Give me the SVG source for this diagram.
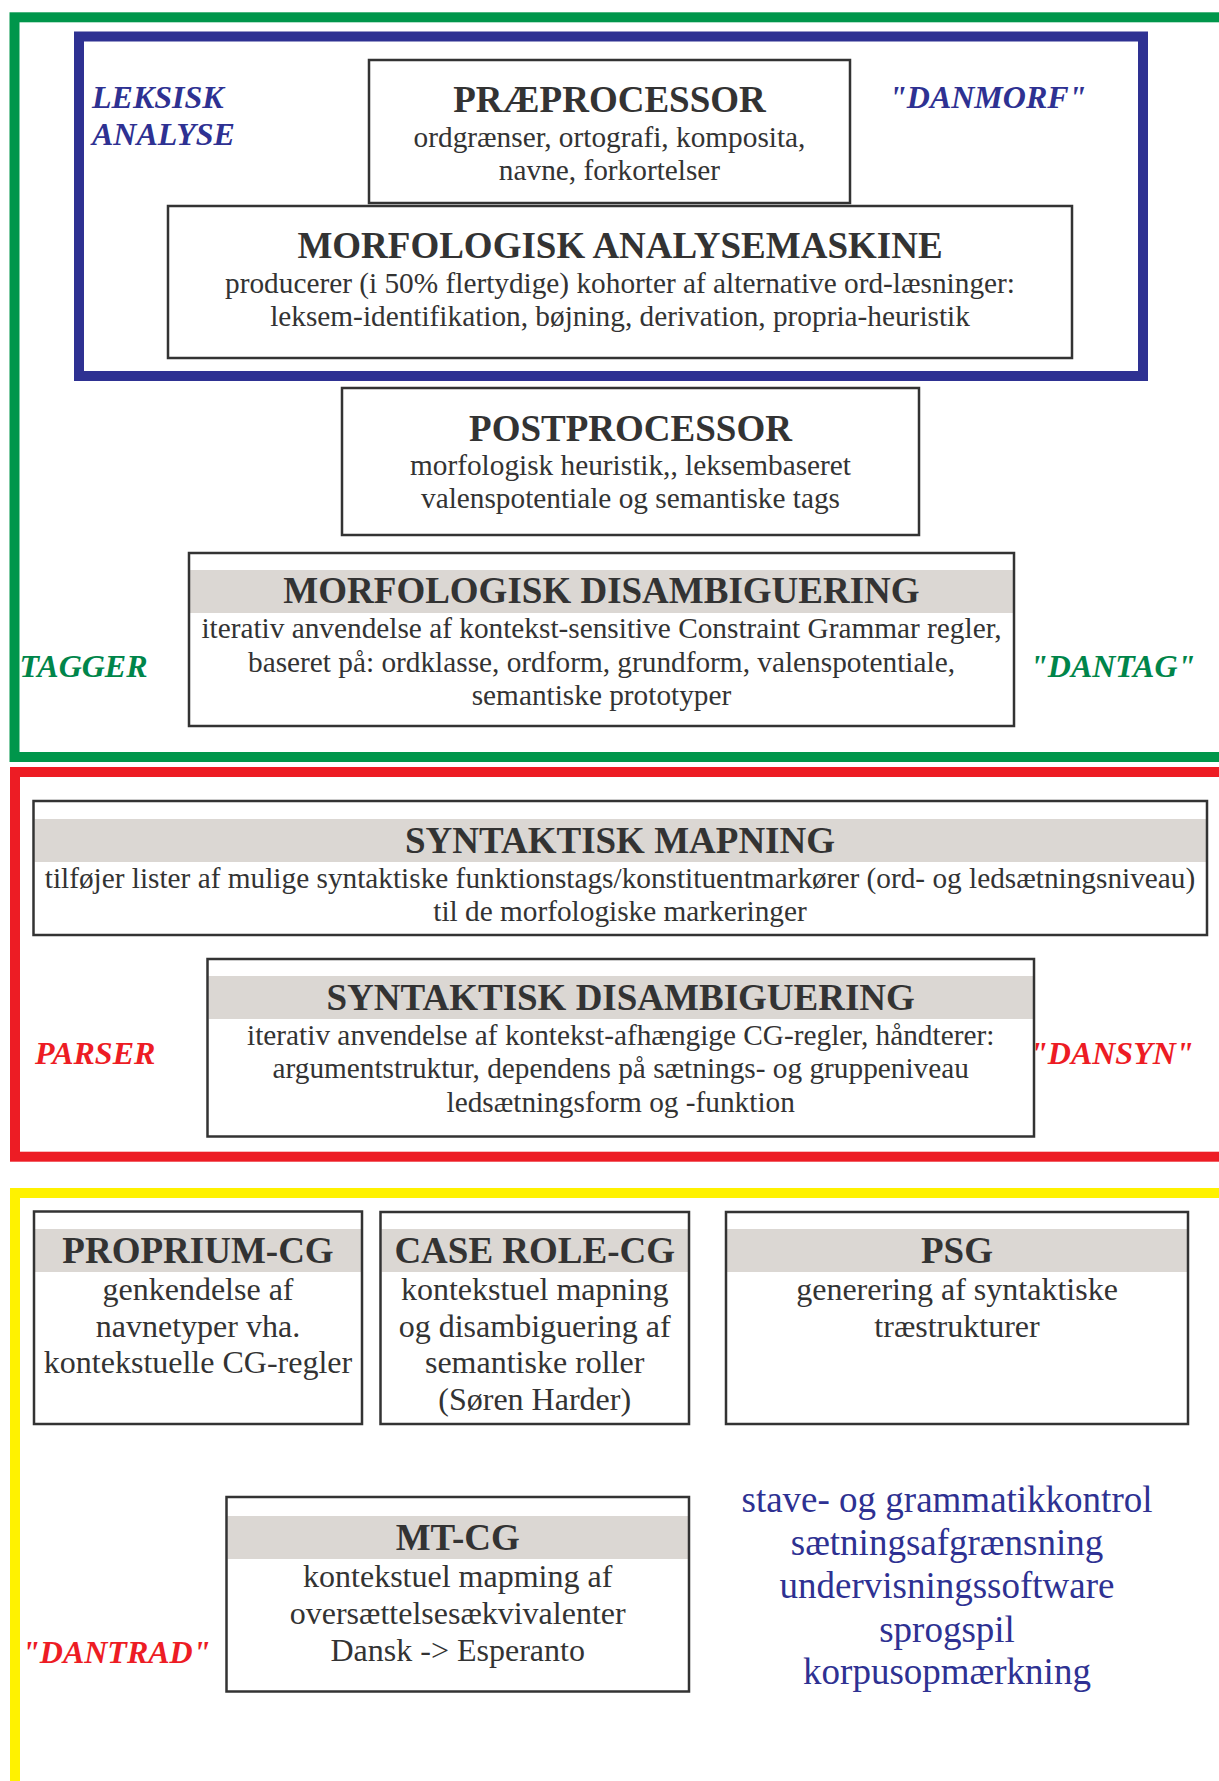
<svg xmlns="http://www.w3.org/2000/svg" width="1219" height="1781" viewBox="0 0 1219 1781">
<style>
  .frame { fill: none; stroke-width: 10; }
  .box { fill: #ffffff; stroke: none; }
  .outline { fill: none; stroke: #333333; stroke-width: 2.5; }
  .band { fill: #dbd7d3; stroke: none; }
  text { font-family: "Liberation Serif", "Times New Roman", serif; fill: #333333; }
  .title { font-size: 37px; font-weight: bold; text-anchor: middle; }
  .body { font-size: 29.3px; text-anchor: middle; }
  .body2 { font-size: 32px; text-anchor: middle; }
  .label { font-size: 32px; font-weight: bold; font-style: italic; }
  .blue { fill: #2e3192; }
  .green { fill: #00854a; }
  .red { fill: #ed1c24; }
  .list { font-size: 37px; text-anchor: middle; fill: #2e3192; }
</style>
<rect width="1219" height="1781" fill="#ffffff"/>
<g id="frames">
  <rect class="frame" x="14.5" y="17.3" width="1300" height="739.7" stroke="#00964b"/>
  <rect class="frame" x="79" y="36.5" width="1064" height="339.5" stroke="#2e3192" stroke-width="10.5"/>
  <rect class="frame" x="15" y="772" width="1300" height="384.7" stroke="#ed1c24"/>
  <rect class="frame" x="15" y="1193" width="1300" height="700" stroke="#fff200"/>
</g>
<g id="labels">
  <text class="label blue" x="92" y="108">LEKSISK</text>
  <text class="label blue" x="92" y="145">ANALYSE</text>
  <text class="label blue" x="889" y="108">"DANMORF"</text>
  <text class="label green" x="19.5" y="677">TAGGER</text>
  <text class="label green" x="1030" y="677">"DANTAG"</text>
  <text class="label red" x="35" y="1064">PARSER</text>
  <text class="label red" x="1030" y="1064">"DANSYN"</text>
  <text class="label red" x="22" y="1663">"DANTRAD"</text>
</g>
<g id="connectors"></g>
<g id="praeprocessor">
  <rect class="box" x="369" y="60" width="481" height="143"/>
  <rect class="outline" x="369" y="60" width="481" height="143"/>
  <text class="title" x="609.5" y="112">PRÆPROCESSOR</text>
  <text class="body" x="609.5" y="147">ordgrænser, ortografi, komposita,</text>
  <text class="body" x="609.5" y="180">navne, forkortelser</text>
</g>
<g id="morf-analyse">
  <rect class="box" x="168" y="206" width="904" height="152"/>
  <rect class="outline" x="168" y="206" width="904" height="152"/>
  <text class="title" x="620" y="258">MORFOLOGISK ANALYSEMASKINE</text>
  <text class="body" x="620" y="293">producerer (i 50% flertydige) kohorter af alternative ord-læsninger:</text>
  <text class="body" x="620" y="326">leksem-identifikation, bøjning, derivation, propria-heuristik</text>
</g>
<g id="postprocessor">
  <rect class="box" x="342" y="388" width="577" height="147"/>
  <rect class="outline" x="342" y="388" width="577" height="147"/>
  <text class="title" x="630.5" y="441">POSTPROCESSOR</text>
  <text class="body" x="630.5" y="475">morfologisk heuristik,, leksembaseret</text>
  <text class="body" x="630.5" y="508">valenspotentiale og semantiske tags</text>
</g>
<g id="morf-disamb">
  <rect class="box" x="189" y="553" width="825" height="173"/>
  <rect class="band" x="190" y="570" width="823" height="43"/>
  <rect class="outline" x="189" y="553" width="825" height="173"/>
  <text class="title" x="601.5" y="603">MORFOLOGISK DISAMBIGUERING</text>
  <text class="body" x="601.5" y="638">iterativ anvendelse af kontekst-sensitive Constraint Grammar regler,</text>
  <text class="body" x="601.5" y="672">baseret på: ordklasse, ordform, grundform, valenspotentiale,</text>
  <text class="body" x="601.5" y="705">semantiske prototyper</text>
</g>
<g id="synt-mapning">
  <rect class="box" x="33.5" y="801" width="1173.5" height="134"/>
  <rect class="band" x="34.5" y="819" width="1171.5" height="43"/>
  <rect class="outline" x="33.5" y="801" width="1173.5" height="134"/>
  <text class="title" x="620" y="853">SYNTAKTISK MAPNING</text>
  <text class="body" x="620" y="888">tilføjer lister af mulige syntaktiske funktionstags/konstituentmarkører (ord- og ledsætningsniveau)</text>
  <text class="body" x="620" y="921">til de morfologiske markeringer</text>
</g>
<g id="synt-disamb">
  <rect class="box" x="207.5" y="959" width="826.5" height="177.5"/>
  <rect class="band" x="208.5" y="976" width="824.5" height="43"/>
  <rect class="outline" x="207.5" y="959" width="826.5" height="177.5"/>
  <text class="title" x="620.7" y="1010">SYNTAKTISK DISAMBIGUERING</text>
  <text class="body" x="620.7" y="1045">iterativ anvendelse af kontekst-afhængige CG-regler, håndterer:</text>
  <text class="body" x="620.7" y="1078">argumentstruktur, dependens på sætnings- og gruppeniveau</text>
  <text class="body" x="620.7" y="1112">ledsætningsform og -funktion</text>
</g>
<g id="proprium-cg">
  <rect class="box" x="34" y="1211.5" width="328" height="212.5"/>
  <rect class="band" x="35" y="1229" width="326" height="43"/>
  <rect class="outline" x="34" y="1211.5" width="328" height="212.5"/>
  <text class="title" x="198" y="1263">PROPRIUM-CG</text>
  <text class="body2" x="198" y="1300">genkendelse af</text>
  <text class="body2" x="198" y="1337">navnetyper vha.</text>
  <text class="body2" x="198" y="1373">kontekstuelle CG-regler</text>
</g>
<g id="case-role-cg">
  <rect class="box" x="380.5" y="1212" width="308.5" height="212"/>
  <rect class="band" x="381.5" y="1229" width="306.5" height="43"/>
  <rect class="outline" x="380.5" y="1212" width="308.5" height="212"/>
  <text class="title" x="534.7" y="1263">CASE ROLE-CG</text>
  <text class="body2" x="534.7" y="1300">kontekstuel mapning</text>
  <text class="body2" x="534.7" y="1337">og disambiguering af</text>
  <text class="body2" x="534.7" y="1373">semantiske roller</text>
  <text class="body2" x="534.7" y="1410">(Søren Harder)</text>
</g>
<g id="psg">
  <rect class="box" x="726" y="1212" width="462" height="212"/>
  <rect class="band" x="727" y="1229" width="460" height="43"/>
  <rect class="outline" x="726" y="1212" width="462" height="212"/>
  <text class="title" x="957" y="1263">PSG</text>
  <text class="body2" x="957" y="1300">generering af syntaktiske</text>
  <text class="body2" x="957" y="1337">træstrukturer</text>
</g>
<g id="mt-cg">
  <rect class="box" x="226.5" y="1497" width="462.5" height="194.5"/>
  <rect class="band" x="227.5" y="1516" width="460.5" height="43"/>
  <rect class="outline" x="226.5" y="1497" width="462.5" height="194.5"/>
  <text class="title" x="457.7" y="1550">MT-CG</text>
  <text class="body2" x="457.7" y="1587">kontekstuel mapming af</text>
  <text class="body2" x="457.7" y="1624">oversættelsesækvivalenter</text>
  <text class="body2" x="457.7" y="1661">Dansk -&gt; Esperanto</text>
</g>
<g id="applications">
  <text class="list" x="947" y="1512">stave- og grammatikkontrol</text>
  <text class="list" x="947" y="1555">sætningsafgrænsning</text>
  <text class="list" x="947" y="1598">undervisningssoftware</text>
  <text class="list" x="947" y="1642">sprogspil</text>
  <text class="list" x="947" y="1684">korpusopmærkning</text>
</g>
</svg>
